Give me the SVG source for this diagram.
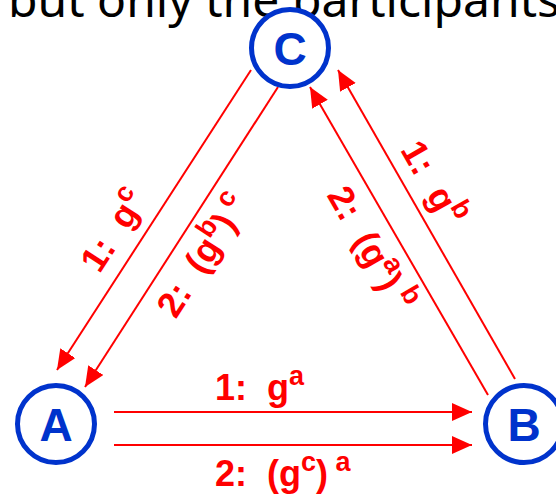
<svg xmlns="http://www.w3.org/2000/svg" width="556" height="494" viewBox="0 0 556 494">
<style>
.node{fill:#fff;stroke:#0033cc;stroke-width:5}
.nl{font-family:"Liberation Sans",Arial,sans-serif;font-weight:bold;font-size:46px;fill:#0033cc;text-anchor:middle}
.edge{stroke:#ff0000;stroke-width:2;fill:none;marker-end:url(#ah)}
.lbl{font-family:"Liberation Sans",Arial,sans-serif;font-weight:bold;font-size:36px;fill:#ff0000}
.sup{font-size:27px}
.top{font-family:"Noto Sans","DejaVu Sans",sans-serif;font-size:47px;fill:#000}
</style>
<defs>
<marker id="ah" markerUnits="userSpaceOnUse" markerWidth="22" markerHeight="20" refX="20" refY="9" orient="auto">
<path d="M0,0 L20,9 L0,18 Z" fill="#ff0000"/>
</marker>
</defs>
<text class="top" x="8" y="17" textLength="552" lengthAdjust="spacingAndGlyphs">but only the participants</text>
<g id="connectors">
<line class="edge" x1="114" y1="412" x2="472" y2="412"/>
<line class="edge" x1="114" y1="445" x2="472" y2="445"/>
<line class="edge" x1="251" y1="70" x2="57" y2="370"/>
<line class="edge" x1="278" y1="87" x2="85" y2="387"/>
<line class="edge" x1="515" y1="379" x2="338" y2="70"/>
<line class="edge" x1="488" y1="395" x2="310" y2="87"/>
<text class="lbl" x="215" y="400">1:&#160;&#160;g<tspan class="sup" dy="-15">a</tspan></text>
<text class="lbl" x="215" y="486">2:&#160;&#160;(g<tspan class="sup" dy="-15">c</tspan><tspan dy="15">)</tspan><tspan class="sup" dy="-15">&#160;a</tspan></text>
<g transform="translate(251,70) rotate(-57.1)"><text class="lbl" x="-254" y="-16">1:&#160;&#160;g<tspan class="sup" dy="-15">c</tspan></text></g>
<g transform="translate(278,87) rotate(-57.2)"><text class="lbl" x="-251" y="40">2:&#160;&#160;(g<tspan class="sup" dy="-15">b</tspan><tspan dy="15">)</tspan><tspan class="sup" dy="-15">&#160;c</tspan></text></g>
<g transform="translate(338,70) rotate(60.2)"><text class="lbl" x="100" y="-14">1:&#160;&#160;g<tspan class="sup" dy="-15">b</tspan></text></g>
<g transform="translate(310,87) rotate(60.0)"><text class="lbl" x="102" y="40">2:&#160;&#160;(g<tspan class="sup" dy="-15">a</tspan><tspan dy="15">)</tspan><tspan class="sup" dy="-15">&#160;b</tspan></text></g>
</g>
<g id="A"><circle class="node" cx="56" cy="424" r="38.5"/><text class="nl" x="56" y="440.5">A</text></g>
<g id="B"><circle class="node" cx="524" cy="424" r="38.5"/><text class="nl" x="524" y="440.5">B</text></g>
<g id="C"><circle class="node" cx="290" cy="48" r="38.5"/><text class="nl" x="290" y="64.5">C</text></g>
</svg>
